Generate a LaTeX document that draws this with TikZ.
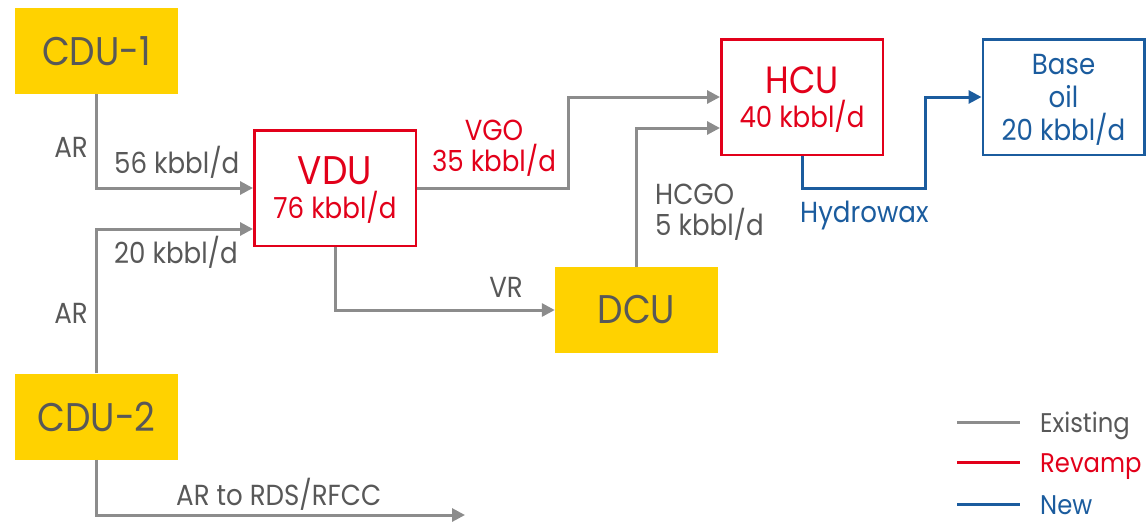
\documentclass[tikz,border=0pt]{standalone}
\usepackage{fontspec}
\setmainfont{Poppins}[FakeStretch=0.9]
\usetikzlibrary{arrows.meta, positioning}
\definecolor{mygold}{RGB}{255,210,0}
\definecolor{mygray}{RGB}{140,140,140}
\definecolor{mytext}{RGB}{88,88,88}
\definecolor{myred}{RGB}{226,0,26}
\definecolor{myblue}{RGB}{27,92,158}

\tikzset{
  unitbox/.style={fill=mygold, text=mytext, minimum width=163pt, minimum height=86pt,
                  inner sep=0pt, font=\fontsize{40}{40}\selectfont},
  framebox/.style={draw=#1, line width=2.5pt, fill=white, text=#1, minimum width=161.5pt,
                   minimum height=115.5pt, inner sep=0pt, align=center, text depth=0pt,
                   font=\fontsize{29}{34}\selectfont},
  flow/.style={draw=mygray, line width=3pt, -{Triangle[length=13pt,width=13pt]}},
  lbl/.style={text=mytext, font=\fontsize{29}{31}\selectfont, inner sep=0pt}
}

\begin{document}
\begin{tikzpicture}[x=1pt, y=-1pt]
  \useasboundingbox (0,0) rectangle (1148,523);

  % units
  \node[unitbox] (cdu1) at (96.5,51) {CDU-1};
  \node[unitbox] (cdu2) at (96.5,416.5) {CDU-2};
  \node[unitbox] (dcu) at (636.5,310) {DCU};
  \node[framebox=myred] (vdu) at (335,188)
        {{\fontsize{40}{40}\selectfont VDU}\\76 kbbl/d};
  \node[framebox=myred] (hcu) at (802,97)
        {{\fontsize{38}{38}\selectfont HCU}\\40 kbbl/d};
  \node[framebox=myblue, font=\fontsize{29}{33}\selectfont] (base) at (1063.5,97)
        {Base\\oil\\20 kbbl/d};

  \coordinate (rds) at (465,515);
  \coordinate (wax) at (925,188);

  % streams
  \draw[flow] (cdu1.south) |- (vdu.west);
  \draw[flow] (cdu2.north) |- ([yshift=-41pt]vdu.west);
  \draw[flow] (cdu2.south) |- (rds);
  \draw[flow] (vdu.east) -- ++(151,0) |- (hcu.west);
  \draw[flow] (vdu.south) |- (dcu.west);
  \draw[flow] (dcu.north) |- ([yshift=-31pt]hcu.west);
  \draw[flow, draw=myblue] (hcu.south) |- (wax) |- (base.west);

  % labels
  \node[lbl, anchor=base east] (ar1) at (88,157) {AR};
  \node[lbl, anchor=base west] (f56) at (114,173) {56 kbbl/d};
  \node[lbl, anchor=base west] (f20) at (114,263) {20 kbbl/d};
  \node[lbl, anchor=base east] (ar2) at (88,323) {AR};
  \node[lbl, anchor=base west] (arx) at (176,505) {AR to RDS/RFCC};
  \node[lbl, text=myred, align=center, anchor=base] (vgo) at (494,171) {VGO\\35 kbbl/d};
  \node[lbl, anchor=base east] (vr) at (523,297) {VR};
  \node[lbl, align=left, anchor=base west] (hcgo) at (655,235) {HCGO\\5 kbbl/d};
  \node[lbl, text=myblue, anchor=base west] (hwax) at (800,222) {Hydrowax};

  % legend
  \foreach \y/\c/\tc/\t/\n in {422/mygray/mytext/Existing/lgex, 462/myred/myred/Revamp/lgrv,
                               504/myblue/myblue/New/lgnw}{
    \draw[\c, line width=3pt] (957,\y) -- (1020,\y);
    \node[lbl, text=\tc, anchor=base west, font=\fontsize{27}{29}\selectfont] (\n)
          at (1040,\y+10) {\t};
  }
\end{tikzpicture}
\end{document}
